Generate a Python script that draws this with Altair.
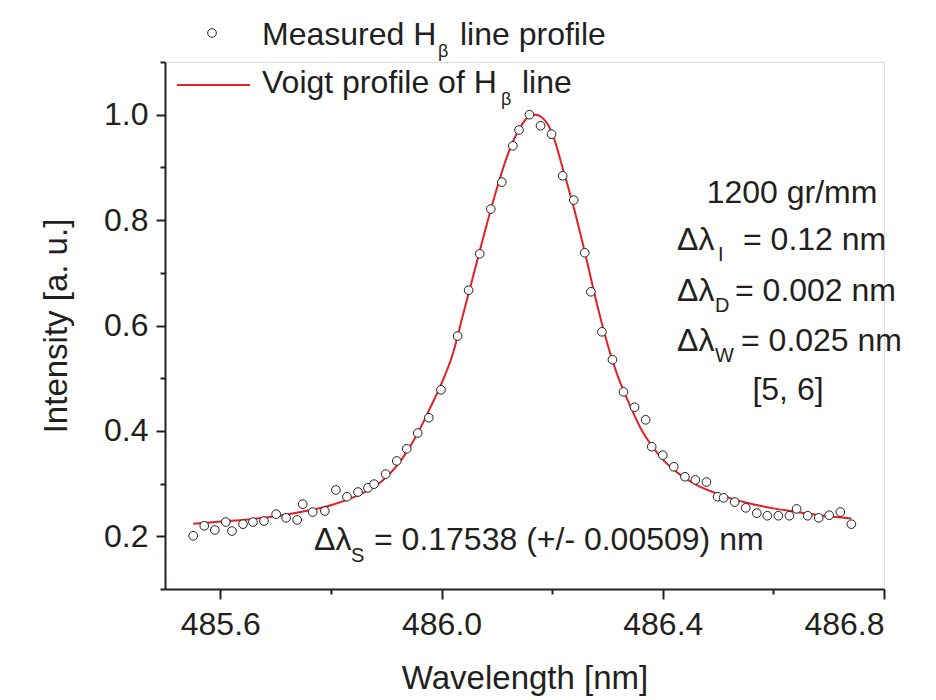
import altair as alt
import pandas as pd

# ---------------- data ----------------
meas_wl = [485.551, 485.571, 485.590, 485.610, 485.621, 485.641, 485.659, 485.679,
           485.701, 485.719, 485.739, 485.749, 485.767, 485.789, 485.809, 485.829,
           485.849, 485.867, 485.878, 485.899, 485.919, 485.937, 485.957, 485.977,
           485.999, 486.029, 486.049, 486.069, 486.089, 486.109, 486.129, 486.140,
           486.159, 486.179, 486.199, 486.219, 486.239, 486.259, 486.270, 486.290,
           486.309, 486.329, 486.349, 486.369, 486.380, 486.400, 486.420, 486.440,
           486.459, 486.479, 486.499, 486.510, 486.530, 486.550, 486.570, 486.589,
           486.609, 486.629, 486.642, 486.662, 486.682, 486.701, 486.721, 486.741]
meas_int = [0.201, 0.220, 0.212, 0.227, 0.210, 0.223, 0.227, 0.229,
            0.242, 0.235, 0.231, 0.261, 0.246, 0.248, 0.288, 0.275,
            0.284, 0.292, 0.299, 0.318, 0.343, 0.366, 0.396, 0.425,
            0.478, 0.580, 0.667, 0.736, 0.821, 0.872, 0.941, 0.971,
            1.000, 0.979, 0.963, 0.884, 0.838, 0.738, 0.664, 0.588,
            0.535, 0.474, 0.445, 0.421, 0.370, 0.354, 0.332, 0.313,
            0.307, 0.303, 0.275, 0.273, 0.265, 0.254, 0.244, 0.239,
            0.239, 0.239, 0.252, 0.239, 0.235, 0.240, 0.246, 0.223]

fit_wl = [485.551, 485.60, 485.65, 485.70, 485.75, 485.80, 485.85, 485.88, 485.90,
          485.92, 485.94, 485.96, 485.98, 486.00, 486.02, 486.04, 486.06, 486.08,
          486.10, 486.12, 486.14, 486.16, 486.17, 486.18, 486.20, 486.22, 486.24,
          486.26, 486.28, 486.30, 486.32, 486.34, 486.36, 486.38, 486.40, 486.43,
          486.46, 486.50, 486.55, 486.60, 486.65, 486.70, 486.741]
fit_int = [0.224, 0.228, 0.232, 0.238, 0.247, 0.259, 0.278, 0.295, 0.312,
           0.335, 0.365, 0.402, 0.445, 0.490, 0.545, 0.625, 0.705, 0.785,
           0.860, 0.925, 0.972, 0.998, 1.000, 0.996, 0.965, 0.895, 0.820,
           0.735, 0.645, 0.565, 0.500, 0.450, 0.405, 0.372, 0.346, 0.318,
           0.298, 0.280, 0.264, 0.253, 0.245, 0.238, 0.234]

x_ticks = [485.6, 485.8, 486.0, 486.2, 486.4, 486.6, 486.8]
y_ticks = [0.1, 0.2, 0.3, 0.4, 0.5, 0.6, 0.7, 0.8, 0.9, 1.0, 1.1]

legend_texts = ["Measured H", "\u03b2", "line profile",
                "Voigt profile of H", "\u03b2", "line"]
info_texts = ["1200 gr/mm", "\u0394\u03bb", "I", "= 0.12 nm",
              "\u0394\u03bb", "D", "= 0.002 nm",
              "\u0394\u03bb", "W", "= 0.025 nm", "[5, 6]"]
width_texts = ["\u0394\u03bb", "S", "= 0.17538 (+/- 0.00509) nm"]

FONT = "Liberation Sans"
INK = "#231f20"
RED = "#e41f26"
W, H = 719, 527

meas = pd.DataFrame({"wl": meas_wl, "I": meas_int})
fit = pd.DataFrame({"wl": fit_wl, "I": fit_int})

xscale = alt.Scale(domain=[485.5, 486.8], nice=False, zero=False)
yscale = alt.Scale(domain=[0.1, 1.1], nice=False, zero=False)

common_axis = dict(grid=False, domainColor=INK, domainWidth=2, tickColor=INK, tickWidth=2,
                   labelFont=FONT, labelFontSize=32, labelColor=INK,
                   titleFont=FONT, titleFontSize=33, titleFontWeight="normal", titleColor=INK)

xaxis = alt.Axis(values=x_ticks, title="Wavelength [nm]",
                 labelExpr="round(datum.value*10) % 4 == 0 ? format(datum.value, '.1f') : ''",
                 tickSize={"condition": {"test": "round(datum.value*10) % 4 == 0", "value": 10}, "value": 5},
                 labelPadding=10, titlePadding=22, **common_axis)
yaxis = alt.Axis(values=y_ticks, title="Intensity [a. u.]",
                 labelExpr="round(datum.value*10) % 2 == 0 ? format(datum.value, '.1f') : ''",
                 tickSize={"condition": {"test": "round(datum.value*10) % 2 == 0", "value": 9}, "value": 5},
                 labelPadding=8, titlePadding=30, **common_axis)

line = alt.Chart(fit).mark_line(color=RED, strokeWidth=2, interpolate="monotone").encode(
    x=alt.X("wl:Q", scale=xscale, axis=xaxis),
    y=alt.Y("I:Q", scale=yscale, axis=yaxis),
)
pts = alt.Chart(meas).mark_point(shape="circle", filled=True, fill="white", stroke=INK,
                                 strokeWidth=1, size=75, opacity=1).encode(
    x=alt.X("wl:Q", scale=xscale),
    y=alt.Y("I:Q", scale=yscale),
)


def txt(t, x, y, size=32, align="left"):
    return alt.Chart(alt.Data(values=[{"t": t}])).mark_text(
        align=align, baseline="alphabetic", font=FONT, fontSize=size, color=INK
    ).encode(x=alt.value(x), y=alt.value(y), text="t:N")


one = alt.Data(values=[{"k": 0}])
leg_pt = alt.Chart(one).mark_point(shape="circle", filled=True, fill="white", stroke=INK,
                                   strokeWidth=1, size=75, opacity=1).encode(
    x=alt.value(47), y=alt.value(-29))
leg_line = alt.Chart(one).mark_rule(color=RED, strokeWidth=2).encode(
    x=alt.value(12), x2=alt.value(85), y=alt.value(23))

SUB = 20
layers = [line, pts, leg_pt, leg_line,
          txt(legend_texts[0], 97, -17), txt(legend_texts[1], 273, -5, 18),
          txt(legend_texts[2], 295, -17),
          txt(legend_texts[3], 97, 31), txt(legend_texts[4], 336, 43, 18),
          txt(legend_texts[5], 357, 31),
          txt(info_texts[0], 627, 141, align="center"),
          txt(info_texts[1], 512, 188), txt(info_texts[2], 553, 199, SUB), txt(info_texts[3], 578, 188),
          txt(info_texts[4], 512, 239), txt(info_texts[5], 550, 250, SUB), txt(info_texts[6], 570, 239),
          txt(info_texts[7], 512, 289), txt(info_texts[8], 550, 300, SUB), txt(info_texts[9], 576, 289),
          txt(info_texts[10], 623, 338, align="center"),
          txt(width_texts[0], 149, 488), txt(width_texts[1], 186, 500, SUB), txt(width_texts[2], 209, 488),
          ]

chart = alt.layer(*layers).properties(
    width=W, height=H,
    autosize=alt.AutoSizeParams(type="none"),
    padding={"left": 165, "top": 62, "right": 52, "bottom": 111},
).configure_view(stroke=None).configure(background="white")

chart.save("out.html", embed_options={"renderer": "svg", "actions": False})
